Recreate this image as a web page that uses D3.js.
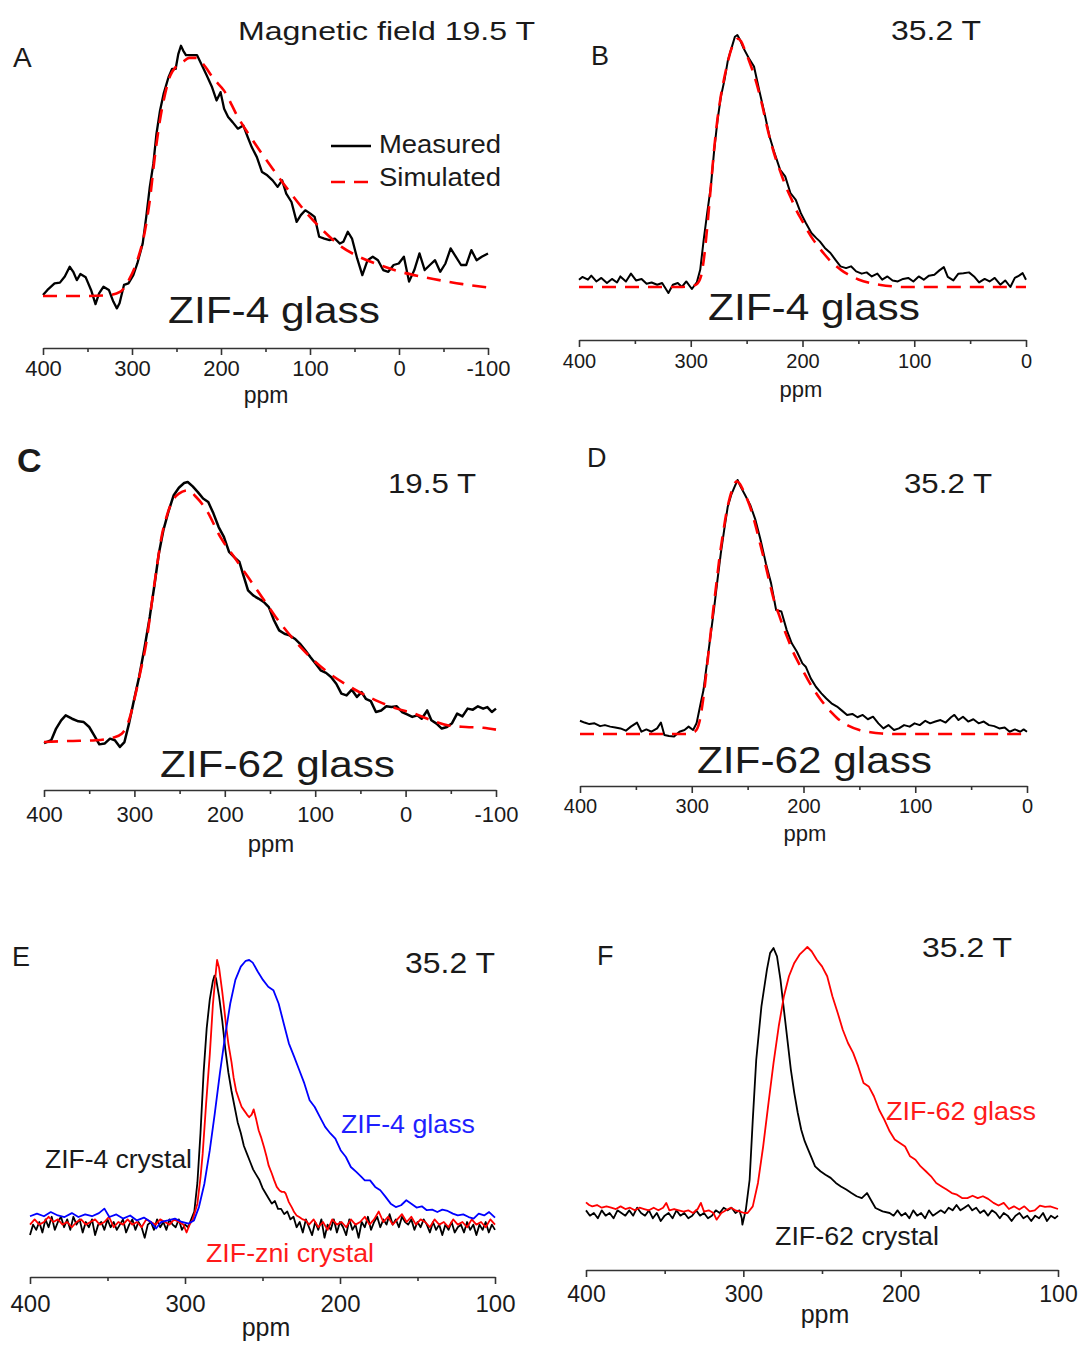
<!DOCTYPE html>
<html><head><meta charset="utf-8">
<script src="https://cdn.jsdelivr.net/npm/d3@7"></script>
<style>body{margin:0;background:#fff;} svg{display:block;} text{font-family:"Liberation Sans",Arial,sans-serif;}</style>
</head><body><svg id="c" width="1082" height="1345"></svg>
<script>
// ---------------- DATA (ppm, relative intensity 0-100) ----------------
const ticks19 = [400, 300, 200, 100, 0, -100];
const minor19 = [350, 250, 150, 50, -50];
const ticks35 = [400, 300, 200, 100, 0];
const minor35 = [350, 250, 150, 50];
const ticksE = [400, 300, 200, 100];
const minorE = [350, 250, 150];

const A_measured = [[400,0.4],[395,2.4],[387,5],[381,5.3],[375.5,7.7],[370,11.6],[366,9.6],[362,6.3],[358,8.7],[352,7.4],[346,2.4],[341,-3.2],[337,1],[332,3.7],[326,2.4],[321,-2.2],[317,-4.9],[314,-2.9],[309,4.4],[304,5],[298.5,8.3],[294,12.9],[288,20.8],[284,31.4],[280,43.3],[276,52.5],[272.5,64.4],[268.5,73.6],[264.5,80.2],[259,86.8],[255,90.1],[251,90.1],[248,96],[245,99.3],[242.5,97.4],[239.4,95.6],[233.6,95.6],[227,95.6],[222,92],[216,87.5],[210,82.8],[205,77.6],[200.5,80.9],[196.5,74.3],[192,71],[187,69],[181,66.4],[175,67.7],[170,63.1],[165.5,59.1],[159.7,55.1],[153.9,49.2],[148,47.9],[142,45.9],[136.4,43.3],[131.3,45.9],[126.7,40.6],[120.8,37.3],[115,29.4],[110.3,32.1],[105.3,34],[99.5,32.7],[94.8,31.4],[89.7,23.5],[83.9,22.8],[78,22.2],[72.2,22.8],[66.4,20.8],[62.5,21.5],[57.5,25.5],[52.8,22.8],[47,14.9],[41.2,8.3],[35.3,14.2],[29.5,15.6],[23.6,14.2],[17.8,10.3],[12,9.6],[6.1,12.3],[0.3,12.9],[-5.5,15.6],[-11.3,5.7],[-17.2,10.3],[-23,16.9],[-28.9,10.3],[-34.7,12.3],[-40.5,14.2],[-46.3,9.6],[-52.2,12.9],[-58,18.9],[-63.8,15.6],[-69.7,12.3],[-75.5,12.3],[-81.3,18.2],[-87.2,14.2],[-93,15.6],[-100,16.9]];
const A_simulated = [[400,0],[371.6,0],[348,0],[325,0.4],[313,1.7],[303.6,6.3],[294,14.2],[286,24.8],[280,38],[274.4,55.1],[268.6,69.7],[262.8,80.2],[257,87.5],[251,90.8],[243.3,92.7],[235.5,94.5],[227.8,94.5],[220,92],[208,86.1],[196.6,81.5],[181,71],[161.7,60.4],[142,50.5],[122.8,41.3],[103.3,32.7],[83.9,25.5],[64.5,19.5],[45,15.6],[21.7,12.3],[-1.6,9.6],[-25,7.7],[-48.3,6.1],[-71.6,4.7],[-100,3.4]];

const B_measured = [[400,2.9],[397,4],[392,2.9],[389,4.5],[384.5,2.2],[380,3.6],[375,1.6],[370.5,3.2],[366,1.8],[363,4.2],[358,2.2],[353.5,5.3],[349,2.6],[344,3.2],[339.5,1.3],[335,1.8],[330,0.9],[325.6,1.6],[320,-2.4],[316,0.9],[311.6,1.6],[308,0],[304,2.2],[299,-0.8],[294.6,1.8],[291.5,6.9],[288.4,18.8],[285.3,29.3],[282,39.9],[279,54.4],[276,66.3],[273,75.6],[269.8,82.2],[266.7,90.1],[263.6,94.7],[260.5,99.3],[258.3,100],[255.8,98],[252.7,94.7],[248,90.8],[243.4,87.5],[238.8,78.2],[234,69],[229.5,59.7],[225,53.1],[220,46.5],[215.5,43.9],[210.8,37.3],[206,34.6],[201.5,29.3],[197,25.4],[192,21.4],[187.6,19.4],[184.5,18.1],[180,15.5],[175,13.5],[170.5,10.8],[166,8.2],[161,7.5],[156.6,8.2],[152,6.2],[147,5.3],[142.6,5.8],[138,4.2],[133,5.3],[128.7,2.9],[124,4.2],[119.4,2.6],[114.7,2.2],[110,3.2],[105.4,3.6],[100.8,2.2],[96,4.2],[91.5,2.9],[86.8,4.5],[82,4.9],[77.5,6.6],[73.5,7.9],[70,4],[65,2.6],[60.5,5.3],[56,5.5],[51,5.8],[46.5,4.2],[42,1.8],[37,3.2],[32.6,2.2],[28,3.6],[23,0.9],[18.6,2.6],[14,0],[10,3.6],[6.2,4.5],[3,5.5],[0,2.9]];
const B_simulated = [[400,0],[310,0],[300,0.3],[295,1],[291,4],[288,12],[285,25],[282,40],[279,55],[276,67],[273,76],[270,83],[267,89],[264,94],[261,97],[258,98.5],[255,97.5],[252,94.5],[248,90],[244,85],[240,79],[236,72],[232,64],[228,57],[224,51],[220,46],[215,40],[210,35],[205,30],[200,26],[195,22],[190,18.5],[185,15.5],[180,12.8],[175,10.3],[170,8.3],[165,6.6],[160,5.2],[155,4],[150,3],[140,1.6],[130,0.8],[120,0.3],[110,0],[0,0]];

const C_measured = [[400,-0.8],[392,0.3],[386.6,4.8],[381,8],[376,9.9],[369,8.6],[362,7.6],[356,7.3],[350,5.4],[344.5,2.2],[338.8,-1.3],[333,-1],[327,0.9],[321.6,0.3],[316,-2.3],[311,-0.4],[306,6.7],[300.5,15.7],[294.8,24.7],[289,35.6],[283,47.9],[277.6,60.7],[273,72.3],[268,81.3],[262,89],[256.5,94.9],[250.8,97.8],[245,99.6],[241,100],[235.5,98.3],[229.8,96.1],[224,93.6],[218.3,92.3],[212.5,87.8],[206.8,82.6],[201,78.8],[195.3,73],[189.6,71],[183.8,69.1],[180,64.6],[174.3,58.2],[168.6,56.2],[162.8,55],[157,53.7],[151.3,51.7],[145.6,46.6],[139.9,42.7],[134,41.4],[128.4,40.8],[122.6,39.5],[117,37.6],[111,35],[105.4,32.4],[99.7,29.9],[94,27.3],[88,26.3],[82.5,24.7],[76.7,22.1],[71,18.3],[65.3,17.6],[59.5,19.8],[53.8,17],[48.8,18.9],[44,16.3],[38.5,15.4],[32.8,11.2],[27,11.8],[21.3,13.4],[15.6,13.1],[9.8,13.4],[4,11.2],[-1.7,10.3],[-7.4,9.3],[-13,9.9],[-17.8,8.6],[-23.9,11.8],[-28.5,8],[-34.2,6.7],[-40,4.8],[-45.7,5.4],[-51.4,6.9],[-57,10.6],[-62.9,9.5],[-68.6,12.5],[-74.4,12.1],[-80,13.4],[-85.8,12.5],[-90.4,13.1],[-95.4,11.2],[-100,12.5]];
const C_simulated = [[400,-0.4],[373,0],[342.6,0.3],[323.5,1.3],[314,2.8],[306,8],[298.6,18.3],[293,27.3],[287,37.6],[281.4,51.7],[275.7,65.9],[270,78.8],[264,87.1],[258.5,92.3],[250.8,95.5],[241,96.8],[231.7,94.2],[220,89],[205,78.8],[189.6,71],[174.3,63.3],[159,55.6],[143.7,47.9],[124.6,39.5],[105.4,32.4],[86.3,26.6],[67.2,22.1],[48,18.3],[29,15.1],[9.8,12.5],[-9.3,10.6],[-28.5,8],[-47.6,6],[-66.7,5.4],[-85.8,5.1],[-100,4.4]];

const D_measured = [[400,5.2],[396,4.5],[391.6,3.9],[387,4.2],[382,3.1],[377.7,3.5],[373,2.9],[368.4,2.6],[363.8,2.2],[359,1.3],[354.5,2.9],[349,4.5],[345,0.9],[340.6,1.8],[336,0.9],[331,2.2],[327.6,4.5],[324.5,-0.4],[320.4,-0.8],[315.8,-1],[311,0.9],[306.5,1.6],[302.8,2.9],[298.8,1.6],[295.7,4.2],[292.6,10.8],[289.5,17.3],[286.4,27.8],[283.3,38.3],[280.2,48.8],[277,60.6],[274,71.1],[271,80.3],[267.8,89.5],[264.7,94.1],[261.6,97.4],[259,100],[256.3,97.4],[252.3,94.1],[247.7,90.2],[243,84.3],[238.4,76.4],[233.7,67.2],[229,59.3],[224.5,48.8],[219.8,48.2],[215,40.9],[210.5,35.7],[205.9,32.4],[201,27.8],[198,26.5],[193.5,21.9],[188.9,18.6],[184,16],[179.6,14],[175,12.1],[170,10.8],[165.6,9.2],[161,7.5],[156.3,7.9],[151.7,6.6],[147,7.5],[142.4,5.8],[137.8,6.8],[133,4.2],[128.5,2.2],[124,3.5],[119,1.6],[114.6,2.2],[110,3.5],[105,2.9],[100.6,4.2],[96,3.5],[91,5.2],[86.7,4.2],[82,4.9],[77.4,5.5],[72.8,4.5],[68,6.6],[65,7.5],[61.3,5.5],[57.3,6.8],[52.6,4.9],[48,5.8],[43.3,4.2],[38.7,4.9],[34,3.5],[29.4,3.1],[24.8,2.2],[20,2.6],[15.5,0.9],[10.8,1.8],[6,0.9],[3,1.8],[0,0.9]];
const D_simulated = [[400,0],[305,0],[297,1],[293,5],[290,13],[287,24],[284,36],[281,48],[278,59],[275,70],[272,79],[269,87],[266,93],[263,97],[260,99.5],[257,98.5],[254,96],[250,92],[246,87],[242,80.5],[238,73.5],[234,66.5],[230,59],[226,52],[222,47],[218,42],[214,37.5],[210,33],[205,28.5],[200,24.5],[195,20.5],[190,17],[185,13.8],[180,11],[175,8.5],[170,6.3],[165,4.6],[160,3.3],[150,1.6],[140,0.7],[130,0.2],[120,0],[0,0]];

const E_zif4Crystal = [[400,-5],[398,-1],[396,-3],[394,0],[392,-4],[390,1],[388,-2],[386,2],[384,-3],[382,0],[380,2],[378,-2],[376,1],[374,-3],[372,2],[370,-1],[368,1],[366,-4],[364,0],[362,-2],[360,1],[358,-5],[356,-1],[354,0],[352,-3],[350,1],[348,-2],[346,0],[344,-3],[342,-1],[340,1],[338,-4],[336,-1],[334,1],[332,-3],[330,0],[328,-2],[326,-6],[324,-1],[322,0],[320,-3],[318,1],[316,-2],[314,0],[312,-3],[310,1],[308,-1],[306,-2],[304,1],[302,-3],[300,-1],[298,-2],[296,1],[294,4],[292,15],[290,34],[288,57],[286,74],[284,85],[282,92],[281,94],[280,93],[278,86],[276,77],[274,66],[272,57],[270,50],[268,44],[266,38],[264,34],[262,29],[260,26],[258,23],[256,20],[254,18],[252,16],[250,13],[248,11],[246,9],[244,7],[242,8],[240,5],[238,5],[236,3],[234,4],[232,1],[230,2],[228,-2],[226,0],[224,-4],[222,1],[220,-2],[218,-5],[216,0],[214,-3],[212,1],[210,-6],[208,-1],[206,-3],[204,1],[202,-4],[200,0],[198,-2],[196,-5],[194,1],[192,-3],[190,-1],[188,-6],[186,0],[184,-2],[182,2],[180,-3],[178,0],[176,2],[174,-2],[172,1],[170,-1],[168,3],[166,-1],[164,1],[162,-2],[160,2],[158,0],[156,-1],[154,1],[152,-3],[150,0],[148,-2],[146,1],[144,-1],[142,-4],[140,0],[138,-3],[136,-1],[134,-5],[132,-1],[130,-3],[128,0],[126,-4],[124,-2],[122,-1],[120,-4],[118,0],[116,-3],[114,-1],[112,-5],[110,-1],[108,-3],[106,0],[104,-4],[102,-1],[100,-3]];
const E_zniCrystal = [[400,-1],[397,1],[394,-1],[391,0],[388,2],[385,0],[382,1],[379,-1],[376,0],[373,-2],[370,0],[367,1],[364,-1],[361,0],[358,1],[355,-1],[352,0],[349,2],[346,-2],[343,0],[340,-1],[337,1],[334,-1],[331,0],[328,-2],[325,1],[322,0],[319,-1],[316,1],[313,0],[310,-1],[307,1],[304,0],[301,-1],[299,-4],[297,-1],[295,1],[292,7],[290,17],[288.6,26],[286.4,45],[284,64],[282,83],[280,96],[279.3,100],[278,97],[276,88],[275,83],[273.5,75],[272,68],[270,61],[268.6,55],[267,50],[265,46.5],[263.5,44],[262,42.7],[260,41],[258.6,40],[257,41],[255.7,43],[254,39],[252.5,35],[251,32.5],[249,28.5],[247.4,25],[246,21.5],[244,18.5],[242.5,16],[240.8,13.4],[239,12],[237.6,11.5],[236,11.5],[235,10.8],[233,7.6],[231,5.5],[229.6,3.8],[228,2.5],[226.3,1.9],[224,1],[222,0.6],[220,-1],[217,1],[214,-2],[211,0],[208,-3],[205,1],[202,-1],[199,0],[196,-2],[193,1],[190,-1],[187,0],[184,2],[181,-1],[178,1],[175,4],[172,0],[169,2],[166,-1],[163,1],[160,3],[157,0],[154,2],[151,-1],[148,1],[145,0],[142,-2],[139,1],[136,-1],[133,0],[130,-2],[127,1],[124,-1],[121,0],[118,-2],[115,1],[112,-1],[109,0],[106,-2],[103,1],[100,-1]];
const E_zif4Glass = [[400,2.2],[395.5,3.2],[391,2.2],[386.6,3.8],[382,2.5],[377.7,1.9],[373,3.4],[368.8,1.9],[364.4,2.9],[360,2.2],[355.5,3.4],[352,5.1],[348.8,1.9],[344.3,2.9],[340,1.3],[335.4,2.5],[331,0.6],[326.5,1.7],[322,0],[318.7,-2.5],[315.4,0],[311,0.6],[306.5,1.3],[302,0],[297.6,-0.6],[294.2,0.6],[291,5.7],[287.5,14.6],[284,27.4],[280.8,41.4],[277.5,56.7],[274.2,70.7],[270.8,83.4],[267.5,92.4],[264,97.5],[260.8,99.7],[258.6,100],[256.3,99],[253,95.5],[249.7,92.4],[246.3,89.8],[243,88.5],[239.6,83.4],[236.3,75.8],[233,68.2],[229.6,63.1],[226.3,58],[223,52.9],[219.6,46.5],[216.3,43.9],[213,40.1],[209.6,36.3],[206.2,33.8],[203,31.8],[199.6,27.4],[196.2,24.8],[193,21],[189.5,19.1],[186.2,17.2],[184,15.9],[180.6,15.9],[177.3,13.4],[174,12.1],[170.6,9.6],[167.3,7],[164,5.7],[160.6,6.4],[157.2,8.3],[154,7],[150.6,5.5],[147.2,6],[144,4.5],[140.5,4.7],[137.2,3.8],[134,4.7],[130.5,4.2],[127.2,3.2],[124,2.5],[120.5,2.9],[117,1.9],[113.8,1.3],[110.5,3.2],[107,2.5],[103.8,3.8],[100,1.7]];

const F_zif62Crystal = [[400,1],[397.5,-1],[395,0],[392.5,-2],[390,1],[387.5,-1],[385,0],[382.5,-2],[380,1],[377.5,0],[375,-1],[372.5,1],[370,-1],[367.5,2],[365,0],[362.5,-1],[360,1],[357.5,-2],[355,0],[352.5,-3],[350,-1],[347.5,0],[345,-2],[342.5,1],[340,-1],[337.5,0],[335,-2],[332.5,-1],[330,1],[327.5,-1],[325,0],[322.5,-2],[320,-1],[317.5,1],[315,0],[312.5,2],[310,1],[307.5,2],[305,0],[302.5,1],[301,-2],[300.6,-4.4],[298.4,1.3],[296,12.5],[294,35],[291.8,57.6],[288.5,77.7],[285,91.5],[283,97.7],[280.8,99.6],[278.6,96.5],[276.4,87.7],[274.2,76.4],[272,65.2],[269.8,53.9],[267.6,45.1],[265.4,37.6],[263.2,31.3],[261,27],[258.8,23.8],[256.6,20.7],[254.4,17.5],[251,15.7],[247.8,14.4],[244.5,13.2],[241.2,11.3],[238,10],[234.6,8.8],[231.3,7.5],[228,6.3],[224.7,5.6],[221.4,7.5],[219,5],[216,1.9],[211.5,0.6],[207,0],[204.5,-1],[202,1],[199.5,-1],[197,0],[194.5,-2],[192,1],[189.5,-1],[187,0],[184.5,-2],[182,1],[179.5,-1],[177,0],[174.5,1],[172,0],[169.5,2],[167,1],[164.5,3],[162,1],[159.5,2],[157,3],[154.5,1],[152,2],[149.5,0],[147,1],[144.5,-1],[142,1],[139.5,0],[137,-2],[134.5,0],[132,-1],[129.5,-3],[127,-1],[124.5,0],[122,-2],[119.5,-1],[117,-3],[114.5,-1],[112,-2],[109.5,0],[107,-3],[104.5,-1],[102,-2],[100,-1]];
const F_zif62Glass = [[400,4],[398,3],[396,2.5],[393,3],[390,2],[387,2.5],[384,2],[381,1.5],[378,2.5],[375,1.5],[372,2],[369,1],[366,2],[363,1.5],[360,1],[357,2],[354,1],[351,2],[349,3.8],[347,1],[344,1.5],[341,1],[338,0.5],[335,1],[332,0],[329,1.5],[327,3.8],[325,0.5],[322,1],[319,0],[317,-2.5],[314,0],[311,1],[308,2],[305,1],[302,0.5],[299.5,0],[297.3,0],[294,2.5],[290.7,11.3],[287.4,25],[284,41.4],[280.8,56.4],[277.5,70.2],[274.2,81.5],[271,89],[267.6,94],[264.3,97.1],[261,99],[259.3,100],[256.6,98.4],[253.3,95.2],[250,92.7],[246.7,89],[243.4,81.5],[240,75.2],[236.8,68.9],[233.5,63.9],[230.2,60.2],[227,55.1],[223.6,48.9],[220.3,47.6],[217,43.9],[213.7,38.8],[210.4,35.1],[207,30.7],[203.8,27.6],[200.5,26.3],[197.2,25],[194,21.3],[190.6,20],[187.3,17.5],[184,15.7],[180.7,13.8],[177.4,11.3],[174,10],[170.8,8.8],[167.5,7.5],[164.2,6.9],[161,5.6],[157.6,5.6],[154.3,6.5],[151,5.6],[147.7,6.3],[144.4,5.3],[141,3.8],[137.8,2.8],[134.5,3.8],[131.2,1.5],[128,2.5],[124.6,1.3],[121.4,2.5],[118,0.6],[114.8,1],[111.5,2.8],[108.2,2.3],[105,2.5],[100,1.5]];

// ---------------- LAYOUT ----------------
const svg = d3.select('#c');
const FONT = '"Liberation Sans", Arial, sans-serif';
const ink = '#1a1a1a';

const panels = [
  {x0:43, x1:488, dom:[400,-100], y0:296, y100:44, axisY:348, major:ticks19, minor:minor19, tickFs:22, tickBase:376, ppmX:266, ppmY:403, ppmFs:23,
   series:[{d:A_measured,c:'#000',w:2.3},{d:A_simulated,c:'#ff0000',w:2.6,dash:'14,9',smooth:true}]},
  {x0:579, x1:1026, dom:[400,0], y0:287, y100:35, axisY:340, major:ticks35, minor:minor35, tickFs:20, tickBase:368, ppmX:801, ppmY:397, ppmFs:22,
   series:[{d:B_measured,c:'#000',w:2},{d:B_simulated,c:'#ff0000',w:2.6,dash:'14,9',smooth:true}]},
  {x0:44, x1:496, dom:[400,-100], y0:741, y100:482, axisY:790, major:ticks19, minor:minor19, tickFs:22, tickBase:822, ppmX:271, ppmY:852, ppmFs:24,
   series:[{d:C_measured,c:'#000',w:2.5},{d:C_simulated,c:'#ff0000',w:2.6,dash:'14,9',smooth:true}]},
  {x0:580, x1:1027, dom:[400,0], y0:734, y100:480, axisY:786, major:ticks35, minor:minor35, tickFs:20, tickBase:813, ppmX:805, ppmY:841, ppmFs:22,
   series:[{d:D_measured,c:'#000',w:2},{d:D_simulated,c:'#ff0000',w:2.6,dash:'14,9',smooth:true}]},
  {x0:30, x1:495, dom:[400,100], y0:1222, y100:960, axisY:1277, major:ticksE, minor:minorE, tickFs:24, tickBase:1312, ppmX:266, ppmY:1336, ppmFs:25,
   series:[{d:E_zif4Crystal,c:'#000',w:1.8},{d:E_zniCrystal,c:'#ff0000',w:1.8},{d:E_zif4Glass,c:'#0000ff',w:1.8}]},
  {x0:586, x1:1058, dom:[400,100], y0:1213, y100:947, axisY:1270, major:ticksE, minor:minorE, tickFs:23, tickBase:1302, ppmX:825, ppmY:1323, ppmFs:25,
   series:[{d:F_zif62Crystal,c:'#000',w:1.8},{d:F_zif62Glass,c:'#ff0000',w:1.8}]}
];

panels.forEach(p => {
  const x = d3.scaleLinear().domain(p.dom).range([p.x0, p.x1]);
  const y = d3.scaleLinear().domain([0, 100]).range([p.y0, p.y100]);
  const g = svg.append('g');
  p.series.forEach(s => {
    const line = d3.line().x(d => x(d[0])).y(d => y(d[1]))
      .curve(s.smooth ? d3.curveMonotoneX : d3.curveLinear);
    const path = g.append('path').attr('d', line(s.d.slice().sort((a,b)=>b[0]-a[0])))
      .attr('fill','none').attr('stroke', s.c).attr('stroke-width', s.w)
      .attr('stroke-linejoin','round').attr('stroke-linecap','butt');
    if (s.dash) path.attr('stroke-dasharray', s.dash);
  });
  // axis
  const ax = svg.append('g').attr('transform', `translate(0,${p.axisY})`);
  const major = d3.axisBottom(x).tickValues(p.major).tickSize(7).tickSizeOuter(0).tickFormat(d3.format('d'));
  ax.call(major);
  ax.select('.domain').attr('stroke', '#333').attr('stroke-width', 1.6);
  ax.selectAll('.tick line').attr('stroke', '#333').attr('stroke-width', 1.6);
  ax.selectAll('.tick text').attr('y', p.tickBase - p.axisY).attr('dy', 0)
    .attr('font-size', p.tickFs).attr('font-family', FONT).attr('fill', ink)
    .text(d => d < 0 ? '-' + Math.abs(d) : d);
  const mi = svg.append('g').attr('transform', `translate(0,${p.axisY})`);
  mi.call(d3.axisBottom(x).tickValues(p.minor).tickSize(4).tickSizeOuter(0).tickFormat(''));
  mi.select('.domain').remove();
  mi.selectAll('.tick line').attr('stroke', '#333').attr('stroke-width', 1.6);
  svg.append('text').attr('x', p.ppmX).attr('y', p.ppmY).attr('text-anchor','middle')
    .attr('font-size', p.ppmFs).attr('fill', ink).text('ppm');
});

// annotations
function label(txt, x, y, fs, len, color, weight) {
  const t = svg.append('text').attr('x', x).attr('y', y).attr('font-size', fs)
    .attr('fill', color || ink).attr('font-weight', weight || 'normal').text(txt);
  if (len) t.attr('textLength', len).attr('lengthAdjust', 'spacingAndGlyphs');
  return t;
}
label('A', 13, 67, 28);
label('Magnetic field 19.5 T', 238, 40, 26, 297);
label('Measured', 379, 153, 25, 122);
label('Simulated', 379, 186, 25, 122);
label('ZIF-4 glass', 168, 323, 36, 212);

label('B', 591, 65, 27);
label('35.2 T', 891, 40, 28, 90);
label('ZIF-4 glass', 708, 320, 36, 212);

label('C', 17, 472, 34, null, ink, 'bold');
label('19.5 T', 388, 493, 28, 88);
label('ZIF-62 glass', 160, 777, 36, 235);

label('D', 587, 467, 27);
label('35.2 T', 904, 493, 28, 88);
label('ZIF-62 glass', 697, 773, 36, 235);

label('E', 12, 966, 27);
label('35.2 T', 405, 973, 29, 90);
label('ZIF-4 glass', 341, 1133, 26, 134, '#1f1fff');
label('ZIF-4 crystal', 45, 1168, 26, 147);
label('ZIF-zni crystal', 206, 1262, 26, 168, '#ff1a1a');

label('F', 597, 965, 27);
label('35.2 T', 922, 957, 28, 90);
label('ZIF-62 glass', 886, 1120, 26, 150, '#ff1a1a');
label('ZIF-62 crystal', 775, 1245, 26, 164);

// legend samples
const legG = svg.append('g');
legG.append('line').attr('x1', 331).attr('x2', 371).attr('y1', 146).attr('y2', 146).attr('stroke', '#000').attr('stroke-width', 2.4);
legG.append('line').attr('x1', 331).attr('x2', 371).attr('y1', 182).attr('y2', 182).attr('stroke', '#ff0000').attr('stroke-width', 2.6).attr('stroke-dasharray', '14,9');
</script>
</body></html>
